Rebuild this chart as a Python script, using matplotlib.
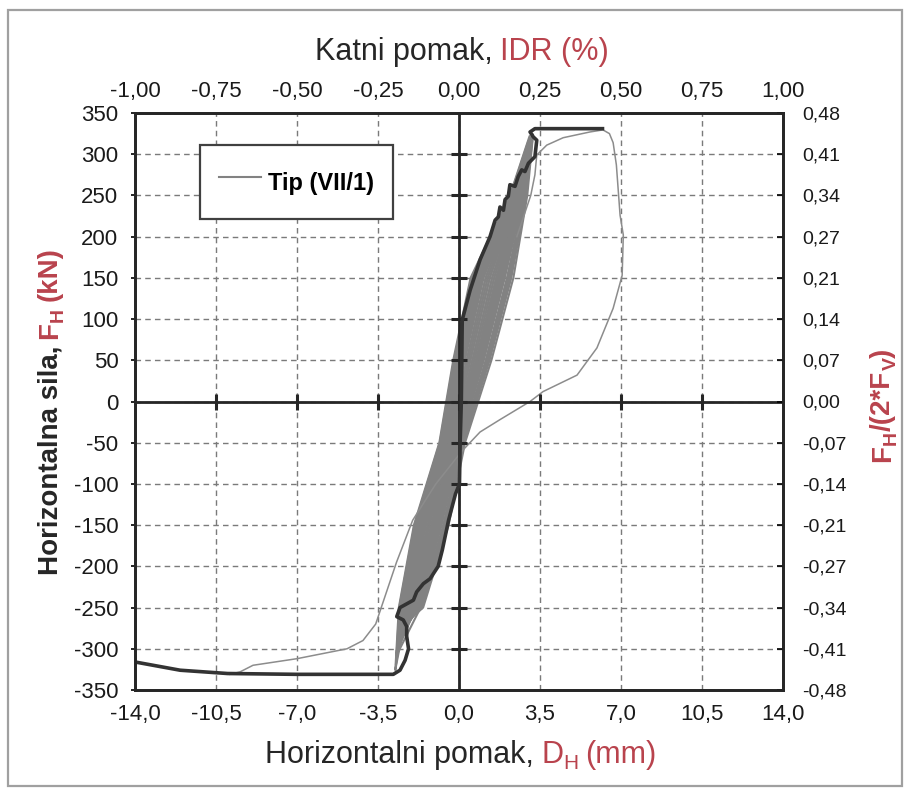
import matplotlib
matplotlib.use('Agg')
import matplotlib.pyplot as plt
from matplotlib.patches import Rectangle
from matplotlib.transforms import IdentityTransform

# ---------------- data ----------------
disp_ticks = [-14.0, -10.5, -7.0, -3.5, 0.0, 3.5, 7.0, 10.5, 14.0]
disp_labels = ['-14,0', '-10,5', '-7,0', '-3,5', '0,0', '3,5', '7,0', '10,5', '14,0']
idr_ticks = [-1.00, -0.75, -0.50, -0.25, 0.00, 0.25, 0.50, 0.75, 1.00]
idr_labels = ['-1,00', '-0,75', '-0,50', '-0,25', '0,00', '0,25', '0,50', '0,75', '1,00']
force_ticks = [350, 300, 250, 200, 150, 100, 50, 0, -50, -100, -150, -200, -250, -300, -350]
force_labels = ['350', '300', '250', '200', '150', '100', '50', '0', '-50', '-100',
                '-150', '-200', '-250', '-300', '-350']
ratio_labels = ['0,48', '0,41', '0,34', '0,27', '0,21', '0,14', '0,07', '0,00', '-0,07',
                '-0,14', '-0,21', '-0,27', '-0,34', '-0,41', '-0,48']

# force levels (kN) at which each cyclic branch is read
loop_levels = [-250, -150, -50, 50, 150, 250]
# each cycle: negative peak, loading branch x (mm), positive peak, unloading branch x (mm)
loop_neg_peak = [(-2.75, -325), (-2.70, -310), (-2.65, -300), (-2.60, -290), (-2.55, -280),
                 (-2.70, -305), (-2.50, -270), (-2.60, -285), (-2.45, -265), (-2.55, -275),
                 (-2.65, -295), (-2.50, -260), (-2.72, -318), (-2.62, -296), (-2.58, -288),
                 (-2.68, -302), (-2.52, -276), (-2.60, -290), (-2.48, -268), (-2.55, -280),
                 (-2.50, -262), (-2.70, -308)]
loop_pos_peak = [(3.05, 322), (3.10, 318), (3.00, 312), (3.15, 320), (2.95, 305),
                 (3.05, 315), (3.10, 310), (2.90, 300), (3.00, 308), (3.20, 324),
                 (2.85, 295), (3.10, 312), (3.00, 316), (3.12, 321), (2.98, 309),
                 (3.08, 317), (2.92, 302), (3.15, 322), (3.02, 311), (3.12, 318),
                 (3.18, 320), (3.05, 314)]
loop_up = [
    [-2.60, -1.95, -0.85, -0.25, 0.50, 2.20],
    [-2.55, -1.88, -0.79, -0.17, 0.59, 2.24],
    [-2.50, -1.80, -0.74, -0.09, 0.69, 2.28],
    [-2.44, -1.73, -0.68, 0.00, 0.78, 2.31],
    [-2.39, -1.65, -0.63, 0.08, 0.87, 2.35],
    [-2.34, -1.58, -0.57, 0.16, 0.96, 2.39],
    [-2.29, -1.50, -0.52, 0.25, 1.06, 2.43],
    [-2.23, -1.43, -0.46, 0.33, 1.15, 2.46],
    [-2.13, -1.28, -0.35, 0.49, 1.33, 2.54],
    [-2.08, -1.20, -0.30, 0.58, 1.43, 2.58],
    [-2.48, -1.76, -0.70, -0.05, 0.74, 2.30],
    [-1.97, -1.05, -0.18, 0.74, 1.61, 2.65],
    [-2.58, -1.92, -0.83, -0.22, 0.54, 2.22],
    [-2.52, -1.83, -0.76, -0.12, 0.65, 2.26],
    [-2.47, -1.77, -0.72, -0.05, 0.72, 2.29],
    [-2.41, -1.68, -0.65, 0.05, 0.83, 2.34],
    [-2.37, -1.62, -0.61, 0.11, 0.91, 2.37],
    [-2.31, -1.53, -0.54, 0.21, 1.02, 2.41],
    [-2.18, -1.35, -0.41, 0.41, 1.24, 2.50],
    [-2.02, -1.13, -0.24, 0.66, 1.52, 2.61],
    [-1.95, -1.02, -0.16, 0.77, 1.65, 2.67],
    [-2.47, -1.77, -0.72, -0.05, 0.72, 2.29],
]
loop_down = [
    [-2.23, -1.43, -0.46, 0.33, 1.15, 2.46],
    [-2.13, -1.28, -0.35, 0.49, 1.33, 2.54],
    [-2.08, -1.20, -0.30, 0.58, 1.43, 2.58],
    [-1.97, -1.05, -0.18, 0.74, 1.61, 2.65],
    [-1.92, -0.98, -0.13, 0.82, 1.70, 2.69],
    [-1.87, -0.90, -0.07, 0.91, 1.80, 2.73],
    [-1.76, -0.75, 0.04, 1.07, 1.98, 2.80],
    [-1.71, -0.68, 0.09, 1.15, 2.07, 2.84],
    [-1.66, -0.60, 0.15, 1.24, 2.17, 2.88],
    [-1.55, -0.45, 0.26, 1.40, 2.35, 2.95],
    [-1.81, -0.83, -0.02, 0.99, 1.89, 2.76],
    [-1.60, -0.52, 0.20, 1.32, 2.26, 2.92],
    [-2.31, -1.53, -0.54, 0.21, 1.02, 2.41],
    [-2.18, -1.35, -0.41, 0.41, 1.24, 2.50],
    [-2.02, -1.13, -0.24, 0.66, 1.52, 2.61],
    [-1.95, -1.02, -0.16, 0.77, 1.65, 2.67],
    [-1.89, -0.93, -0.10, 0.87, 1.76, 2.71],
    [-1.84, -0.87, -0.05, 0.94, 1.83, 2.74],
    [-1.78, -0.78, 0.02, 1.04, 1.94, 2.79],
    [-1.68, -0.63, 0.13, 1.20, 2.13, 2.86],
    [-1.62, -0.56, 0.18, 1.29, 2.21, 2.90],
    [-1.66, -0.60, 0.15, 1.24, 2.17, 2.88],
]

# last (large) cycle, thin line
final_x = [2.50, 3.10, 3.28, 3.36, 3.79, 4.50, 5.66, 6.22, 6.50, 6.66, 6.80, 6.96, 7.10, 7.05,
           6.66, 5.96, 5.10, 3.63, 3.07, 1.77, 0.91, 0.10, -1.00, -2.00, -2.70, -3.30, -3.60,
           -4.15, -4.84, -7.00, -8.90, -9.46, -9.90]
final_f = [200, 250, 275, 299, 311, 320, 327, 329.5, 325, 314, 287, 226, 202, 153,
           113, 65, 32, 12, 0, -22, -37, -61, -100, -144, -195, -245, -270,
           -290, -300, -312, -320, -328, -331]

# envelope (thick line)
env_x = [-14.0, -12.05, -10.0, -7.0, -5.0, -2.84, -2.55, -2.33, -2.18, -2.26, -2.26, -2.41,
         -2.69, -2.55, -1.97, -1.83, -1.54, -1.25, -0.90, -0.72, -0.45, -0.15, 0.02, 0.05,
         0.10, 0.14, 0.48, 0.91, 1.34, 1.56, 1.70, 1.77, 1.92, 1.99, 2.13, 2.20, 2.42, 2.56,
         2.71, 2.85, 3.00, 3.28, 3.36, 3.21, 3.07, 3.28, 6.20]
env_f = [-316, -326, -330, -331, -331, -331, -326, -314, -300, -285, -273, -265,
         -261, -250, -241, -231, -221, -215, -200, -180, -144, -112, -100, -50,
         0, 99, 135, 172, 200, 220, 224, 236, 232, 245, 249, 263, 261, 273,
         281, 279, 289, 297, 317, 321, 327, 331, 331]

legend_label = 'Tip (VII/1)'

RED = '#b9434d'
DARK = '#262626'
GRAY = '#828282'

# ---------------- figure ----------------
W, H = 909, 792
fig = plt.figure(figsize=(W / 100, H / 100), dpi=100)
fig.patch.set_facecolor('white')
fig.patches.append(Rectangle((8 / W, 1 - 786 / H), 894 / W, 776 / H, transform=fig.transFigure,
                             fill=False, edgecolor='#a0a0a0', linewidth=1.6))

ax = fig.add_axes([135 / W, 1 - 690 / H, 648 / W, 577 / H])
ax.set_xlim(-14, 14)
ax.set_ylim(-350, 350)

TICKFONT = ['Liberation Sans Narrow', 'Liberation Sans', 'DejaVu Sans']
RFONT = ['Liberation Sans', 'DejaVu Sans']

ax.set_xticks(disp_ticks)
ax.set_xticklabels(disp_labels, family=TICKFONT, fontsize=16, color='#1a1a1a')
ax.set_yticks(force_ticks)
ax.set_yticklabels(force_labels, family=TICKFONT, fontsize=16, color='#1a1a1a')
ax.tick_params(axis='x', length=0, pad=10)
ax.tick_params(axis='y', length=3, width=1.2, pad=9)

ax.grid(True, color='#7a7a7a', linewidth=1.0, linestyle=(0, (4, 3)))
ax.set_axisbelow(True)
for s in ax.spines.values():
    s.set_linewidth(1.8)
    s.set_color(DARK)

# cyclic loops
first = None
for (xn, fn), up, (xp, fp), dn in zip(loop_neg_peak, loop_up, loop_pos_peak, loop_down):
    xs = [xn] + up + [xp] + dn[::-1] + [xn]
    fs = [fn] + loop_levels + [fp] + loop_levels[::-1] + [fn]
    ln, = ax.plot(xs, fs, color=GRAY, linewidth=1.5, zorder=2, solid_joinstyle='round')
    if first is None:
        first = ln

ax.plot(final_x, final_f, color='#8c8c8c', linewidth=1.1, zorder=2)

# zero cross with ticks
ax.axhline(0, color=DARK, linewidth=2.0, zorder=3)
ax.axvline(0, color=DARK, linewidth=2.0, zorder=3)
ax.plot([0] * len(force_ticks[1:-1]), force_ticks[1:-1], linestyle='none', marker='_',
        markersize=12, markeredgewidth=2.2, color=DARK, zorder=3)
ax.plot(disp_ticks[1:-1], [0] * len(disp_ticks[1:-1]), linestyle='none', marker='|',
        markersize=12, markeredgewidth=2.2, color=DARK, zorder=3)

ax.plot(env_x, env_f, color='#333333', linewidth=2.6, zorder=4, solid_joinstyle='round')

# top axis (IDR)
axt = ax.twiny()
axt.set_xlim(-1, 1)
axt.set_xticks(idr_ticks)
axt.set_xticklabels(idr_labels, family=TICKFONT, fontsize=16, color='#1a1a1a')
axt.tick_params(axis='x', length=0, pad=8)

# right axis (FH/2FV)
axr = ax.twinx()
axr.set_ylim(-350, 350)
axr.set_yticks(force_ticks)
axr.set_yticklabels(ratio_labels, family=RFONT, fontsize=14, color='#1a1a1a')
axr.tick_params(axis='y', direction='in', length=4, width=1.2, pad=14)
for a in (axt, axr):
    for s in a.spines.values():
        s.set_linewidth(1.8)
        s.set_color(DARK)

leg = ax.legend([first], [legend_label], loc='upper left', bbox_to_anchor=(0.100, 0.9445),
                borderaxespad=0, fancybox=False, framealpha=1, edgecolor='#404040',
                prop={'family': RFONT, 'weight': 'bold', 'size': 17},
                borderpad=0.8, handlelength=1.8, handleheight=2.0, handletextpad=0.3)
leg.get_frame().set_linewidth(1.6)
leg.set_zorder(6)

# ---------------- mixed-colour axis titles ----------------
renderer = fig.canvas.get_renderer()


def mixed(pieces, cx, cy, rot=0, weight='normal', family=RFONT):
    """pieces: (text, colour, fontsize, baseline_drop_px, gap_before_px)"""
    items = []
    total = 0.0
    for s, color, size, drop, gap in pieces:
        t = fig.text(0, 0, s, color=color, fontsize=size, family=family, weight=weight,
                     rotation=rot, rotation_mode='anchor', ha='left', va='baseline',
                     transform=IdentityTransform())
        bb = t.get_window_extent(renderer)
        w = bb.height if rot == 90 else bb.width
        items.append((t, w, drop, gap))
        total += gap + w
    pos = -total / 2.0
    for t, w, drop, gap in items:
        pos += gap
        if rot == 90:
            t.set_position((cx + drop, cy + pos))
        else:
            t.set_position((cx + pos, cy - drop))
        pos += w


sp = 7
mixed([('Katni pomak,', '#262626', 22, 0, 0), ('IDR (%)', RED, 22, 0, sp)],
      462, H - 60)
mixed([('Horizontalni pomak,', '#262626', 22, 0, 0), ('D', RED, 22, 0, sp),
       ('H', RED, 15, 6, 0), ('(mm)', RED, 22, 0, sp)],
      461, H - 763)
mixed([('Horizontalna sila,', '#262626', 20, 0, 0), ('F', RED, 20, 0, sp),
       ('H', RED, 14, 6, 0), ('(kN)', RED, 20, 0, sp)],
      57, H - 411, rot=90, weight='bold')
mixed([('F', RED, 20, 0, 0), ('H', RED, 14, 6, 0), ('/(2*F', RED, 20, 0, 0),
       ('V', RED, 14, 6, 0), (')', RED, 20, 0, 0)],
      890, H - 405, rot=90, weight='bold')

fig.savefig('out.png', dpi=100, facecolor='white')
